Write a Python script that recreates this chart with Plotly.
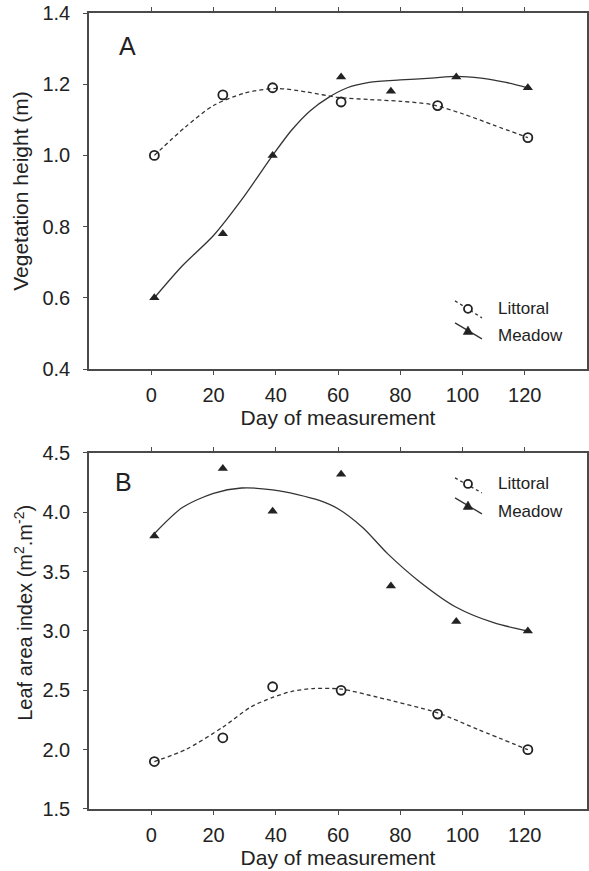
import plotly.graph_objects as go
from plotly.subplots import make_subplots

# ---- Panel A: vegetation height (m) ----
a_lit_days = [1, 23, 39, 61, 92, 121]
a_lit_vals = [1.00, 1.17, 1.19, 1.15, 1.14, 1.05]
a_mea_days = [1, 23, 39, 61, 77, 98, 121]
a_mea_vals = [0.60, 0.78, 1.00, 1.22, 1.18, 1.22, 1.19]

# fitted curves
a_lit_fit_days = [1, 11, 20, 30, 40, 50, 60, 70, 80, 90, 100, 110, 121]
a_lit_fit_vals = [1.00, 1.08, 1.14, 1.175, 1.188, 1.178, 1.163, 1.157, 1.152, 1.143, 1.117, 1.085, 1.05]
a_mea_fit_days = [1, 10, 20, 29, 39, 45, 51, 57, 63, 70, 80, 90, 98, 106, 114, 121]
a_mea_fit_vals = [0.60, 0.69, 0.775, 0.875, 1.00, 1.07, 1.125, 1.163, 1.19, 1.205, 1.212, 1.217, 1.222, 1.217, 1.205, 1.19]

# ---- Panel B: leaf area index ----
b_lit_days = [1, 23, 39, 61, 92, 121]
b_lit_vals = [1.90, 2.10, 2.53, 2.50, 2.30, 2.00]
b_mea_days = [1, 23, 39, 61, 77, 98, 121]
b_mea_vals = [3.80, 4.37, 4.01, 4.32, 3.38, 3.08, 3.00]

b_lit_fit_days = [1, 11, 23, 32, 39, 45, 52, 61, 73, 92, 105, 121]
b_lit_fit_vals = [1.90, 2.00, 2.19, 2.36, 2.44, 2.49, 2.515, 2.51, 2.44, 2.31, 2.17, 2.00]
b_mea_fit_days = [1, 10, 20, 29, 39, 47, 54, 60, 68, 76, 86, 98, 110, 121]
b_mea_fit_vals = [3.82, 4.04, 4.16, 4.205, 4.19, 4.15, 4.10, 4.03, 3.87, 3.65, 3.42, 3.20, 3.07, 3.00]

series_names = ["Littoral", "Meadow"]
x_ticks = [0, 20, 40, 60, 80, 100, 120]
a_y_ticks = [0.4, 0.6, 0.8, 1.0, 1.2, 1.4]
b_y_ticks = [1.5, 2.0, 2.5, 3.0, 3.5, 4.0, 4.5]

FONT = "Arial, Liberation Sans, sans-serif"
INK = "#222222"
LINE = "#333333"
AX = "#4a4a4a"

fig = make_subplots(rows=2, cols=1, vertical_spacing=0.1055, shared_xaxes=False)

def add_panel(row, lit_fd, lit_fv, mea_fd, mea_fv, lit_d, lit_v, mea_d, mea_v):
    fig.add_trace(go.Scatter(x=lit_fd, y=lit_fv, mode="lines", name=series_names[0] + " fit",
                             line=dict(color=LINE, width=1.3, dash="4px,3px", shape="spline", smoothing=0.8),
                             showlegend=False, hoverinfo="skip"), row=row, col=1)
    fig.add_trace(go.Scatter(x=mea_fd, y=mea_fv, mode="lines", name=series_names[1] + " fit",
                             line=dict(color=LINE, width=1.3, shape="spline", smoothing=0.8),
                             showlegend=False, hoverinfo="skip"), row=row, col=1)
    fig.add_trace(go.Scatter(x=lit_d, y=lit_v, mode="markers", name=series_names[0],
                             marker=dict(symbol="circle-open", size=9, color=INK, line=dict(width=1.8, color=INK)),
                             showlegend=False), row=row, col=1)
    fig.add_trace(go.Scatter(x=mea_d, y=mea_v, mode="markers", name=series_names[1],
                             marker=dict(symbol="triangle-up", size=9, color=INK),
                             showlegend=False), row=row, col=1)

add_panel(1, a_lit_fit_days, a_lit_fit_vals, a_mea_fit_days, a_mea_fit_vals,
          a_lit_days, a_lit_vals, a_mea_days, a_mea_vals)
add_panel(2, b_lit_fit_days, b_lit_fit_vals, b_mea_fit_days, b_mea_fit_vals,
          b_lit_days, b_lit_vals, b_mea_days, b_mea_vals)

axis_common = dict(showline=True, linecolor=AX, linewidth=1.5, mirror="ticks", ticks="outside",
                   ticklen=4, tickwidth=1.3, tickcolor=AX, showgrid=False, zeroline=False,
                   automargin=False, ticklabeloverflow="allow",
                   tickfont=dict(family=FONT, size=20, color=INK))

for r in (1, 2):
    fig.update_xaxes(range=[-20, 140], tickvals=x_ticks, ticktext=[str(t) for t in x_ticks],
                     ticklabelstandoff=3,
                     title=dict(text="Day of measurement", font=dict(family=FONT, size=21, color=INK), standoff=0),
                     row=r, col=1, **axis_common)

fig.update_yaxes(range=[0.4, 1.4], tickvals=a_y_ticks, ticktext=[f"{v:.1f}" for v in a_y_ticks],
                 ticklabelstandoff=9,
                 title=dict(text="Vegetation height (m)", font=dict(family=FONT, size=21, color=INK), standoff=8),
                 row=1, col=1, **axis_common)
fig.update_yaxes(range=[1.5, 4.5], tickvals=b_y_ticks, ticktext=[f"{v:.1f}" for v in b_y_ticks],
                 ticklabelstandoff=9,
                 row=2, col=1, **axis_common)

# ---- custom legends (slanted symbols, as in the original) ----
shapes = []
annotations = []
legend_specs = [
    ("x domain", "y domain", (0.1915, 0.1437), 0.169, (0.1296, 0.0845), 0.107, (0.169, 0.093)),
    ("x2 domain", "y2 domain", (0.930, 0.888), 0.913, (0.874, 0.829), 0.8515, (0.913, 0.835)),
]
SX0, SX1, MX, TX = 0.735, 0.789, 0.761, 0.817
for xr, yr, lseg, lmy, mseg, mmy, tys in legend_specs:
    shapes.append(dict(type="line", xref=xr, yref=yr, x0=SX0, x1=SX1, y0=lseg[0], y1=lseg[1],
                       line=dict(color=LINE, width=1.3, dash="3px,3px")))
    shapes.append(dict(type="circle", xref=xr, yref=yr, xsizemode="pixel", ysizemode="pixel",
                       xanchor=MX, yanchor=lmy, x0=-4, x1=4, y0=-4, y1=4,
                       fillcolor="white", line=dict(color=INK, width=1.8)))
    shapes.append(dict(type="line", xref=xr, yref=yr, x0=SX0, x1=SX1, y0=mseg[0], y1=mseg[1],
                       line=dict(color=LINE, width=1.3)))
    shapes.append(dict(type="path", xref=xr, yref=yr, xsizemode="pixel", ysizemode="pixel",
                       xanchor=MX, yanchor=mmy, path="M-4.8,-3.6 L4.8,-3.6 L0,4.8 Z",
                       fillcolor=INK, line=dict(color=INK, width=0.5)))
    for name, ty in zip(series_names, tys):
        annotations.append(dict(text=name, xref=xr, yref=yr, x=TX, y=ty, xanchor="left", yanchor="middle",
                                showarrow=False, font=dict(family=FONT, size=17, color=INK)))

annotations += [
    dict(text="A", x=0.078, y=0.9585, xref="paper", yref="paper", xanchor="center", yanchor="middle",
         showarrow=False, font=dict(family=FONT, size=25, color=INK)),
    dict(text="B", x=0.070, y=0.411, xref="paper", yref="paper", xanchor="center", yanchor="middle",
         showarrow=False, font=dict(family=FONT, size=25, color=INK)),
    # y-axis title of panel B (placed as in the original, slightly above the panel's centre)
    dict(text="Leaf area index (m<sup>2</sup>.m<sup>-2</sup>)", x=-0.133, y=0.2462, xref="paper", yref="paper",
         xanchor="center", yanchor="middle", textangle=-90, showarrow=False,
         font=dict(family=FONT, size=20, color=INK)),
]

fig.update_layout(
    width=589, height=871,
    margin=dict(l=89, r=2, t=13, b=62, autoexpand=False),
    paper_bgcolor="white", plot_bgcolor="white",
    font=dict(family=FONT, color=INK),
    showlegend=False,
    shapes=shapes,
    annotations=annotations,
)

fig.write_html("out.html", config={"displayModeBar": False},
               post_script="document.body.style.margin='0';document.body.style.overflow='hidden';")
